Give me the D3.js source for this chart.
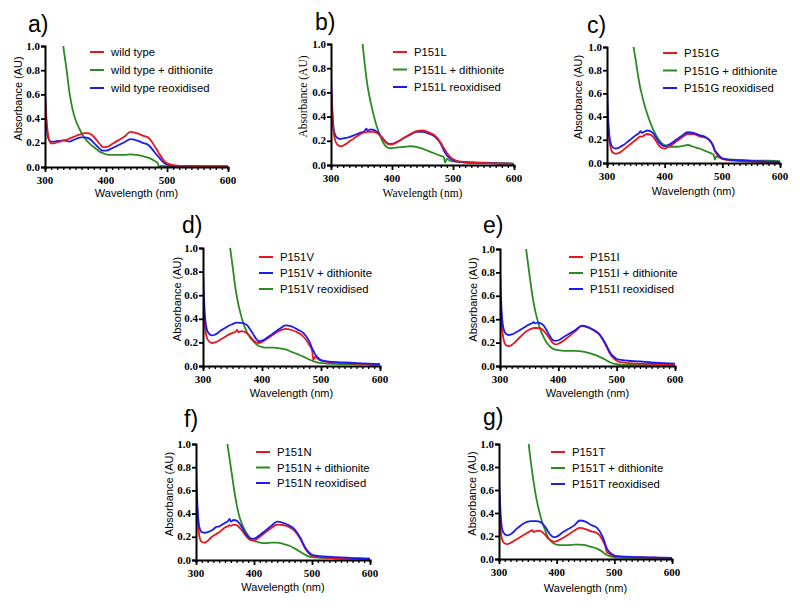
<!DOCTYPE html>
<html>
<head>
<meta charset="utf-8">
<script src="https://cdn.jsdelivr.net/npm/d3@7"></script>
<style>
  body { margin: 0; background: #fff; }
  svg { display: block; }
  .tick-label { font-family: "Liberation Serif", "DejaVu Serif", "Times New Roman", serif; font-weight: bold; font-size: 11px; }
  .axis-title { font-family: "Liberation Sans", Arial, sans-serif; font-size: 11px; }
  .axis-title.serif { font-family: "Liberation Serif", "Times New Roman", serif; font-size: 11.5px; }
  .legend { font-family: "Liberation Sans", Arial, sans-serif; font-size: 11.3px; }
  .panel-label { font-family: "Liberation Sans", Arial, sans-serif; font-size: 23px; }
</style>
</head>
<body>
<div id="chart"></div>
<script>
const width = 800, height = 608;

// wavelength grid (nm) shared by every trace
const wavelengths = [300, 303, 306, 310, 315, 320, 325, 330, 335, 340, 345, 350, 355, 358, 360, 365, 370, 375, 380, 385, 390, 395, 400, 410, 420, 430, 440, 450, 460, 470, 480, 485, 487, 490, 495, 500, 510, 520, 540, 560, 580, 600];

// a) wild type
const wtRed = [0.60, 0.35, 0.24, 0.195, 0.195, 0.205, 0.21, 0.22, 0.225, 0.235, 0.245, 0.255, 0.265, 0.27, 0.275, 0.28, 0.28, 0.27, 0.25, 0.22, 0.19, 0.165, 0.165, 0.19, 0.22, 0.25, 0.29, 0.28, 0.26, 0.24, 0.17, 0.13, 0.11, 0.09, 0.05, 0.03, 0.015, 0.01, 0.008, 0.006, 0.005, 0.004];
const wtGreen = [null, null, null, null, null, null, 1.3, 1.0, 0.82, 0.62, 0.48, 0.39, 0.33, 0.30, 0.28, 0.24, 0.21, 0.185, 0.165, 0.145, 0.125, 0.115, 0.105, 0.10, 0.10, 0.10, 0.105, 0.10, 0.09, 0.075, 0.05, 0.03, 0.0, 0.01, 0.008, 0.005, 0.005, 0.005, 0.005, 0.005, 0.005, 0.005];
const wtBlue = [0.60, 0.32, 0.23, 0.21, 0.21, 0.215, 0.215, 0.22, 0.215, 0.21, 0.22, 0.23, 0.24, 0.245, 0.245, 0.245, 0.24, 0.225, 0.20, 0.175, 0.15, 0.135, 0.135, 0.155, 0.18, 0.205, 0.23, 0.22, 0.20, 0.18, 0.12, 0.09, 0.08, 0.06, 0.035, 0.02, 0.01, 0.008, 0.006, 0.005, 0.004, 0.004];

// b) P151L
const lRed = [0.65, 0.35, 0.22, 0.17, 0.155, 0.16, 0.175, 0.195, 0.21, 0.23, 0.245, 0.26, 0.27, 0.27, 0.275, 0.275, 0.275, 0.265, 0.245, 0.215, 0.185, 0.17, 0.17, 0.195, 0.225, 0.255, 0.28, 0.285, 0.27, 0.245, 0.185, 0.14, 0.125, 0.10, 0.07, 0.05, 0.03, 0.025, 0.02, 0.015, 0.012, 0.01];
const lGreen = [null, null, null, null, null, null, null, null, null, null, null, 1.08, 0.85, 0.72, 0.65, 0.52, 0.41, 0.32, 0.25, 0.19, 0.155, 0.14, 0.14, 0.145, 0.15, 0.155, 0.15, 0.135, 0.115, 0.095, 0.075, 0.065, 0.02, 0.05, 0.035, 0.03, 0.025, 0.022, 0.02, 0.017, 0.015, 0.012];
const lBlue = [0.72, 0.38, 0.26, 0.225, 0.215, 0.22, 0.225, 0.23, 0.24, 0.25, 0.26, 0.27, 0.28, 0.30, 0.285, 0.295, 0.29, 0.275, 0.25, 0.22, 0.19, 0.175, 0.175, 0.195, 0.225, 0.25, 0.275, 0.275, 0.26, 0.235, 0.175, 0.12, 0.10, 0.08, 0.055, 0.04, 0.025, 0.02, 0.017, 0.015, 0.012, 0.01];

// c) P151G
const gRed = [0.50, 0.25, 0.14, 0.09, 0.08, 0.085, 0.10, 0.12, 0.14, 0.16, 0.18, 0.20, 0.22, 0.23, 0.225, 0.24, 0.25, 0.245, 0.225, 0.19, 0.15, 0.13, 0.125, 0.15, 0.185, 0.22, 0.25, 0.25, 0.23, 0.22, 0.18, 0.13, 0.10, 0.08, 0.05, 0.035, 0.025, 0.02, 0.015, 0.012, 0.01, 0.008];
const gGreen = [null, null, null, null, null, null, null, null, null, null, 1.03, 0.88, 0.72, 0.64, 0.60, 0.50, 0.42, 0.35, 0.29, 0.24, 0.20, 0.17, 0.155, 0.14, 0.14, 0.145, 0.155, 0.14, 0.125, 0.105, 0.085, 0.07, 0.03, 0.06, 0.045, 0.035, 0.03, 0.028, 0.025, 0.02, 0.02, 0.015];
const gBlue = [0.65, 0.30, 0.18, 0.135, 0.125, 0.13, 0.145, 0.16, 0.18, 0.20, 0.22, 0.24, 0.255, 0.275, 0.26, 0.27, 0.28, 0.275, 0.255, 0.22, 0.18, 0.155, 0.145, 0.165, 0.20, 0.235, 0.265, 0.26, 0.24, 0.225, 0.185, 0.14, 0.11, 0.09, 0.06, 0.04, 0.03, 0.025, 0.02, 0.015, 0.012, 0.01];

// d) P151V
const vRed = [0.60, 0.35, 0.25, 0.21, 0.195, 0.20, 0.21, 0.225, 0.24, 0.255, 0.27, 0.28, 0.29, 0.305, 0.285, 0.295, 0.29, 0.275, 0.25, 0.22, 0.20, 0.195, 0.205, 0.235, 0.27, 0.30, 0.315, 0.305, 0.285, 0.25, 0.18, 0.13, 0.05, 0.08, 0.06, 0.045, 0.035, 0.03, 0.025, 0.02, 0.015, 0.012];
const vBlue = [0.80, 0.45, 0.32, 0.275, 0.26, 0.265, 0.28, 0.30, 0.315, 0.33, 0.345, 0.355, 0.365, 0.37, 0.365, 0.365, 0.36, 0.345, 0.31, 0.27, 0.23, 0.21, 0.215, 0.245, 0.28, 0.315, 0.345, 0.335, 0.31, 0.28, 0.21, 0.15, 0.13, 0.10, 0.07, 0.05, 0.04, 0.035, 0.03, 0.025, 0.02, 0.015];
const vGreen = [null, null, null, null, null, null, null, null, null, null, 1.04, 0.85, 0.66, 0.57, 0.52, 0.42, 0.34, 0.28, 0.24, 0.21, 0.185, 0.17, 0.16, 0.155, 0.155, 0.15, 0.14, 0.12, 0.10, 0.08, 0.055, 0.045, 0.04, 0.035, 0.028, 0.025, 0.02, 0.018, 0.016, 0.015, 0.013, 0.012];

// e) P151I
const iRed = [0.65, 0.35, 0.23, 0.18, 0.17, 0.18, 0.20, 0.225, 0.25, 0.275, 0.295, 0.31, 0.32, 0.325, 0.325, 0.325, 0.32, 0.30, 0.27, 0.235, 0.20, 0.185, 0.19, 0.22, 0.26, 0.30, 0.34, 0.33, 0.305, 0.27, 0.19, 0.14, 0.12, 0.095, 0.065, 0.045, 0.03, 0.025, 0.02, 0.018, 0.015, 0.012];
const iGreen = [null, null, null, null, null, null, null, null, null, 1.2, 0.99, 0.80, 0.62, 0.53, 0.48, 0.38, 0.30, 0.245, 0.20, 0.17, 0.15, 0.14, 0.135, 0.13, 0.13, 0.13, 0.125, 0.115, 0.10, 0.08, 0.055, 0.04, 0.035, 0.03, 0.02, 0.015, 0.01, 0.01, 0.01, 0.01, 0.01, 0.01];
const iBlue = [0.82, 0.45, 0.32, 0.275, 0.265, 0.27, 0.28, 0.295, 0.31, 0.325, 0.34, 0.355, 0.365, 0.375, 0.365, 0.37, 0.365, 0.345, 0.305, 0.26, 0.225, 0.215, 0.22, 0.25, 0.28, 0.31, 0.345, 0.335, 0.31, 0.275, 0.20, 0.15, 0.13, 0.105, 0.08, 0.06, 0.05, 0.045, 0.04, 0.03, 0.025, 0.02];

// f) P151N
const nRed = [0.68, 0.35, 0.20, 0.155, 0.15, 0.165, 0.19, 0.21, 0.225, 0.24, 0.26, 0.28, 0.29, 0.30, 0.295, 0.305, 0.30, 0.28, 0.25, 0.215, 0.185, 0.17, 0.17, 0.20, 0.24, 0.275, 0.305, 0.30, 0.285, 0.25, 0.18, 0.13, 0.11, 0.085, 0.055, 0.035, 0.025, 0.02, 0.015, 0.012, 0.01, 0.008];
const nGreen = [null, null, null, null, null, null, null, null, null, null, null, 1.15, 0.97, 0.87, 0.80, 0.63, 0.48, 0.37, 0.30, 0.25, 0.21, 0.18, 0.165, 0.15, 0.145, 0.15, 0.15, 0.14, 0.125, 0.10, 0.07, 0.055, 0.05, 0.04, 0.03, 0.025, 0.02, 0.018, 0.015, 0.013, 0.012, 0.01];
const nBlue = [0.80, 0.42, 0.28, 0.24, 0.235, 0.24, 0.25, 0.265, 0.285, 0.29, 0.305, 0.32, 0.335, 0.355, 0.33, 0.345, 0.34, 0.315, 0.275, 0.23, 0.20, 0.185, 0.185, 0.215, 0.255, 0.295, 0.33, 0.32, 0.30, 0.265, 0.19, 0.14, 0.12, 0.095, 0.065, 0.045, 0.035, 0.03, 0.025, 0.02, 0.015, 0.012];

// g) P151T
const tRed = [0.50, 0.25, 0.16, 0.135, 0.13, 0.14, 0.155, 0.17, 0.185, 0.20, 0.215, 0.23, 0.245, 0.25, 0.235, 0.245, 0.245, 0.235, 0.21, 0.18, 0.16, 0.15, 0.155, 0.18, 0.21, 0.245, 0.27, 0.26, 0.24, 0.225, 0.16, 0.10, 0.06, 0.05, 0.035, 0.025, 0.02, 0.018, 0.015, 0.012, 0.01, 0.01];
const tGreen = [null, null, null, null, null, null, null, null, null, null, null, 1.06, 0.85, 0.74, 0.67, 0.52, 0.41, 0.32, 0.25, 0.19, 0.155, 0.135, 0.125, 0.12, 0.12, 0.125, 0.125, 0.12, 0.105, 0.09, 0.06, 0.04, 0.035, 0.03, 0.02, 0.015, 0.012, 0.01, 0.01, 0.01, 0.01, 0.01];
const tBlue = [0.72, 0.38, 0.25, 0.215, 0.205, 0.215, 0.235, 0.26, 0.28, 0.30, 0.315, 0.325, 0.33, 0.33, 0.33, 0.33, 0.325, 0.31, 0.28, 0.24, 0.205, 0.19, 0.195, 0.23, 0.26, 0.29, 0.335, 0.325, 0.295, 0.27, 0.19, 0.12, 0.09, 0.07, 0.045, 0.03, 0.022, 0.02, 0.017, 0.015, 0.012, 0.01];

const panelLabels = ["a)", "b)", "c)", "d)", "e)", "f)", "g)"];
const legendLabels = [
  ["wild type", "wild type + dithionite", "wild type reoxidised"],
  ["P151L", "P151L + dithionite", "P151L reoxidised"],
  ["P151G", "P151G  + dithionite", "P151G  reoxidised"],
  ["P151V", "P151V + dithionite", "P151V reoxidised"],
  ["P151I", "P151I + dithionite", "P151I reoxidised"],
  ["P151N", "P151N + dithionite", "P151N reoxidised"],
  ["P151T", "P151T + dithionite", "P151T reoxidised"]
];
const xTicks = [300, 400, 500, 600];
const yTicks = [0, 0.2, 0.4, 0.6, 0.8, 1.0];

const RED = "#e8161d", GREEN = "#2b8a22", BLUE = "#1c1cf2";

// series per panel, in legend order
const panelSeries = [
  [[wtRed, RED], [wtGreen, GREEN], [wtBlue, BLUE]],
  [[lRed, RED], [lGreen, GREEN], [lBlue, BLUE]],
  [[gRed, RED], [gGreen, GREEN], [gBlue, BLUE]],
  [[vRed, RED], [vBlue, BLUE], [vGreen, GREEN]],
  [[iRed, RED], [iGreen, GREEN], [iBlue, BLUE]],
  [[nRed, RED], [nGreen, GREEN], [nBlue, BLUE]],
  [[tRed, RED], [tGreen, GREEN], [tBlue, BLUE]]
];
const drawOrder = [
  [1, 2, 0], [1, 2, 0], [1, 0, 2], [2, 0, 1], [1, 0, 2], [1, 0, 2], [1, 0, 2]
];

// layout: plot box, label, legend and title positions
const layout = [
  { x0: 45, x1: 228, y0: 167, y1: 46, lab: [28, 32], leg: [90, 52, 18], xt: 193, yt: 18, serif: false },
  { x0: 331, x1: 514, y0: 165, y1: 44, lab: [315, 30], leg: [393, 52, 17.5], xt: 193, yt: 303, serif: true },
  { x0: 607, x1: 780, y0: 163, y1: 47, lab: [587, 33], leg: [663, 53, 17.5], xt: 191, yt: 578, serif: false },
  { x0: 203, x1: 380, y0: 366, y1: 248, lab: [182, 233], leg: [259, 257, 16], xt: 393, yt: 177, serif: false },
  { x0: 500, x1: 675, y0: 366, y1: 249, lab: [483, 233], leg: [569, 257, 16], xt: 393, yt: 473, serif: false },
  { x0: 196, x1: 370, y0: 560, y1: 444, lab: [184, 427], leg: [256, 452, 15.5], xt: 587, yt: 169, serif: false },
  { x0: 499, x1: 672, y0: 559, y1: 444, lab: [483, 425], leg: [551, 452, 16], xt: 588, yt: 472, serif: false }
];

const svg = d3.select("#chart").append("svg")
  .attr("width", width)
  .attr("height", height);

layout.forEach((L, p) => {
  const x = d3.scaleLinear().domain([300, 600]).range([L.x0, L.x1]);
  const y = d3.scaleLinear().domain([0, 1]).range([L.y0, L.y1]);
  const g = svg.append("g");

  g.append("clipPath").attr("id", "clip" + p)
    .append("rect")
    .attr("x", L.x0).attr("y", L.y1)
    .attr("width", L.x1 - L.x0 + 2).attr("height", L.y0 - L.y1);

  const line = d3.line()
    .defined(d => d[1] != null)
    .x(d => x(d[0]))
    .y(d => y(d[1]))
    .curve(d3.curveMonotoneX);

  drawOrder[p].forEach(si => {
    const [vals, col] = panelSeries[p][si];
    g.append("path")
      .attr("clip-path", `url(#clip${p})`)
      .attr("d", line(wavelengths.map((w, i) => [w, vals[i]])))
      .attr("fill", "none")
      .attr("stroke", col)
      .attr("stroke-width", 1.8);
  });

  // x axis with minor ticks every 10 nm
  const xAxis = g.append("g").attr("transform", `translate(0,${L.y0})`)
    .call(d3.axisBottom(x).tickValues(d3.range(300, 601, 10)).tickSize(3).tickFormat(""));
  xAxis.selectAll(".tick line").attr("stroke-width", 1.3);
  xAxis.selectAll(".tick").filter(d => d % 100 === 0).select("line").attr("y2", 5).attr("stroke-width", 1.8);
  xAxis.select(".domain").attr("stroke-width", 2);
  g.selectAll(".xlab").data(xTicks).join("text")
    .attr("class", "tick-label")
    .attr("x", d => x(d)).attr("y", L.y0 + 17)
    .attr("text-anchor", "middle")
    .text(d => d);

  const yAxis = g.append("g").attr("transform", `translate(${L.x0},0)`)
    .call(d3.axisLeft(y).tickValues(yTicks).tickSize(4).tickFormat(""));
  yAxis.selectAll(".tick line").attr("stroke-width", 1.8);
  yAxis.select(".domain").attr("stroke-width", 2);
  g.selectAll(".ylab").data(yTicks).join("text")
    .attr("class", "tick-label")
    .attr("x", L.x0 - 5).attr("y", d => y(d) + 3.5)
    .attr("text-anchor", "end")
    .text(d => d.toFixed(1));

  g.append("text")
    .attr("class", "axis-title" + (L.serif ? " serif" : ""))
    .attr("x", (L.x0 + L.x1) / 2).attr("y", L.xt + 4)
    .attr("text-anchor", "middle")
    .text("Wavelength (nm)");
  g.append("text")
    .attr("class", "axis-title" + (L.serif ? " serif" : ""))
    .attr("transform", `translate(${L.yt + 4},${(L.y0 + L.y1) / 2 - 8}) rotate(-90)`)
    .attr("text-anchor", "middle")
    .text("Absorbance (AU)");

  g.append("text")
    .attr("class", "panel-label")
    .attr("x", L.lab[0]).attr("y", L.lab[1])
    .text(panelLabels[p]);

  // legend
  const [lx, ly, ls] = L.leg;
  panelSeries[p].forEach(([, col], i) => {
    g.append("line")
      .attr("x1", lx).attr("x2", lx + 14)
      .attr("y1", ly + i * ls).attr("y2", ly + i * ls)
      .attr("stroke", col).attr("stroke-width", 2);
    g.append("text")
      .attr("class", "legend")
      .attr("x", lx + 21).attr("y", ly + i * ls + 4)
      .text(legendLabels[p][i]);
  });
});
</script>
</body>
</html>
